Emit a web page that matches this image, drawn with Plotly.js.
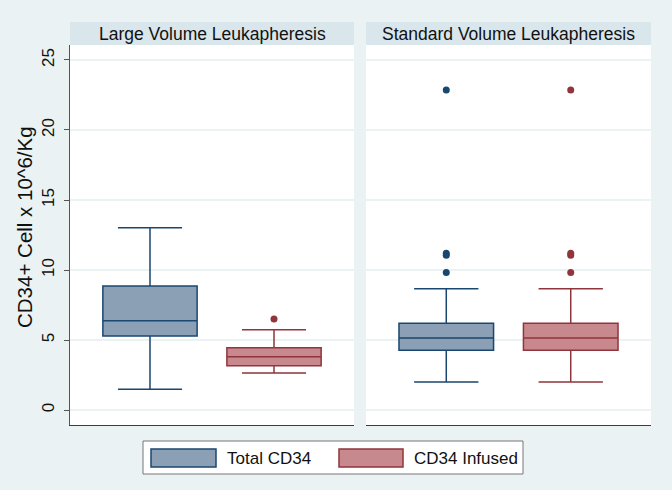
<!DOCTYPE html>
<html>
<head>
<meta charset="utf-8">
<script src="https://cdn.plot.ly/plotly-3.0.1.min.js"></script>
<style>
  html, body { margin: 0; padding: 0; background: #eaf2f3; }
  #chart { width: 672px; height: 490px; }
</style>
</head>
<body>
<div id="chart"></div>
<script>
// panels and series
const panels = ['Large Volume Leukapheresis', 'Standard Volume Leukapheresis'];
const series = ['Total CD34', 'CD34 Infused'];
const yTitle = 'CD34+ Cell x 10^6/Kg';
const yTicks = [0, 5, 10, 15, 20, 25];

// box stats per panel: [Total CD34, CD34 Infused]
const lowerLarge = [1.48, 2.64];
const q1Large = [5.29, 3.17];
const medLarge = [6.38, 3.81];
const q3Large = [8.86, 4.45];
const upperLarge = [13.02, 5.74];
const outLargeTotal = [];
const outLargeInfused = [6.5];

const lowerStd = [2.0, 2.0];
const q1Std = [4.26, 4.26];
const medStd = [5.14, 5.14];
const q3Std = [6.19, 6.19];
const upperStd = [8.67, 8.67];
const outStdTotal = [9.83, 11.05, 11.2, 22.86];
const outStdInfused = [9.83, 11.05, 11.2, 22.86];

const lineCol = ['#1a476f', '#90353b'];
const fillCol = ['#8ca0b5', '#c8898e'];

const traces = [];
const stats = [
  {xa: 'x', lo: lowerLarge, q1: q1Large, md: medLarge, q3: q3Large, hi: upperLarge, out: [outLargeTotal, outLargeInfused]},
  {xa: 'x2', lo: lowerStd, q1: q1Std, md: medStd, q3: q3Std, hi: upperStd, out: [outStdTotal, outStdInfused]}
];

stats.forEach((p) => {
  series.forEach((s, i) => {
    traces.push({
      type: 'box',
      name: s,
      xaxis: p.xa,
      yaxis: 'y',
      x: [i + 1],
      q1: [p.q1[i]],
      median: [p.md[i]],
      q3: [p.q3[i]],
      lowerfence: [p.lo[i]],
      upperfence: [p.hi[i]],
      width: 0.76,
      whiskerwidth: 0.68,
      fillcolor: fillCol[i],
      line: {color: lineCol[i], width: 1.5},
      boxpoints: false,
      showlegend: false,
      hoverinfo: 'skip'
    });
    if (p.out[i].length) {
      traces.push({
        type: 'scatter',
        mode: 'markers',
        xaxis: p.xa,
        yaxis: 'y',
        x: p.out[i].map(() => i + 1),
        y: p.out[i],
        marker: {color: lineCol[i], size: 7},
        showlegend: false,
        hoverinfo: 'skip'
      });
    }
  });
});

const plotH = 380;
const stripH = 23 / plotH;
const px = (v) => (v - 70) / 581;

const xax = {
  range: [0.355, 2.645],
  showticklabels: false,
  ticks: '',
  showgrid: false,
  zeroline: false,
  showline: true,
  linecolor: '#3c3c3c',
  linewidth: 1,
  fixedrange: true
};

const shapes = [];
const annotations = [];
['x', 'x2'].forEach((xa, k) => {
  shapes.push({
    type: 'rect', xref: xa + ' domain', yref: 'paper',
    x0: 0, x1: 1, y0: 1, y1: 1 + stripH,
    fillcolor: '#d9e6eb', line: {width: 0}
  });
  annotations.push({
    xref: xa + ' domain', yref: 'paper', x: 0.5, y: 1 + stripH / 2,
    text: panels[k], showarrow: false,
    font: {size: 17.5, color: '#111'}, xanchor: 'center', yanchor: 'middle'
  });
});

// y title placed by hand
annotations.push({
  xref: 'paper', yref: 'paper', x: px(24), y: (425 - 227) / plotH,
  text: yTitle, textangle: -90, showarrow: false,
  xanchor: 'center', yanchor: 'middle',
  font: {size: 20.5, color: '#111'}
});

// legend drawn by hand to match the wide keys
const legTop = (425 - 441) / plotH;
const legBot = (425 - 474) / plotH;
shapes.push({
  type: 'rect', xref: 'paper', yref: 'paper',
  x0: px(143), x1: px(523), y0: legBot, y1: legTop,
  fillcolor: '#ffffff', line: {color: '#777777', width: 1}
});
const keyX = [[151, 216, 225], [339, 403, 412]];
series.forEach((s, i) => {
  shapes.push({
    type: 'rect', xref: 'paper', yref: 'paper',
    x0: px(keyX[i][0]), x1: px(keyX[i][1]),
    y0: (425 - 467) / plotH, y1: (425 - 449) / plotH,
    fillcolor: fillCol[i], line: {color: lineCol[i], width: 1.5}
  });
  annotations.push({
    xref: 'paper', yref: 'paper', x: px(keyX[i][2]), y: (425 - 458) / plotH,
    text: s, showarrow: false, xanchor: 'left', yanchor: 'middle',
    font: {size: 17, color: '#111'}
  });
});

const layout = {
  width: 672,
  height: 490,
  margin: {l: 70, r: 21, t: 45, b: 65},
  paper_bgcolor: '#eaf2f3',
  plot_bgcolor: '#ffffff',
  font: {family: 'Liberation Sans, Arial, sans-serif', color: '#111'},
  showlegend: false,
  xaxis: Object.assign({}, xax, {domain: [0, 284 / 581]}),
  xaxis2: Object.assign({}, xax, {domain: [296 / 581, 1]}),
  yaxis: {
    range: [-1.07, 26.07],
    tickvals: yTicks,
    tickangle: -90,
    ticks: 'outside',
    ticklen: 5,
    tickcolor: '#555555',
    tickfont: {size: 17, color: '#111'},
    ticklabelstandoff: 3,
    showgrid: true,
    gridcolor: '#eaf2f3',
    gridwidth: 1.5,
    zeroline: false,
    showline: true,
    linecolor: '#555555',
    linewidth: 1,
    fixedrange: true
  },
  shapes: shapes,
  annotations: annotations
};

Plotly.newPlot('chart', traces, layout, {displayModeBar: false, staticPlot: true});
</script>
</body>
</html>
